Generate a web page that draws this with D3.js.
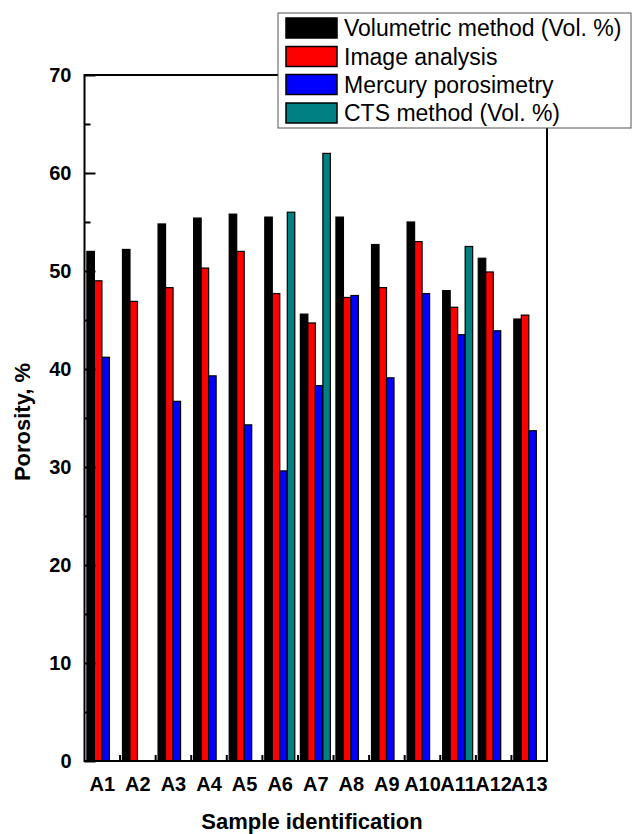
<!DOCTYPE html>
<html>
<head>
<meta charset="utf-8">
<script src="https://cdn.jsdelivr.net/npm/d3@7"></script>
<style>
  html, body { margin: 0; padding: 0; background: #fff; }
  svg { display: block; font-family: "Liberation Sans", Arial, sans-serif; }
</style>
</head>
<body>
<script>
// ---- data ----
const categories = ["A1","A2","A3","A4","A5","A6","A7","A8","A9","A10","A11","A12","A13"];
const seriesNames = ["Volumetric method (Vol. %)", "Image analysis", "Mercury porosimetry", "CTS method (Vol. %)"];
const volumetric = [52.0, 52.2, 54.8, 55.4, 55.8, 55.5, 45.6, 55.5, 52.7, 55.0, 48.0, 51.3, 45.1];
const imageAnalysis = [49.0, 46.9, 48.3, 50.3, 52.0, 47.7, 44.7, 47.3, 48.3, 53.0, 46.3, 49.9, 45.5];
const mercury = [41.2, null, 36.7, 39.3, 34.3, 29.6, 38.3, 47.5, 39.1, 47.7, 43.5, 43.9, 33.7];
const cts = [null, null, null, null, null, 56.0, 62.0, null, null, null, 52.5, null, null];
const yMajorTicks = [0, 10, 20, 30, 40, 50, 60, 70];
const yMinorTicks = [5, 15, 25, 35, 45, 55, 65];
const colors = ["#000000", "#ff0000", "#0000ff", "#008080"];

const seriesValues = [volumetric, imageAnalysis, mercury, cts];

const W = 633, H = 834;
const plotL = 84.5, plotR = 547, plotT = 75, plotB = 761;

const svg = d3.select("body").append("svg").attr("width", W).attr("height", H);
svg.append("rect").attr("width", W).attr("height", H).attr("fill", "#fff");

const x = d3.scaleBand().domain(categories).range([plotL, plotR]).padding(0);
const x1 = d3.scaleBand().domain(seriesNames).range([2.4, 32.4]).padding(0);
const y = d3.scaleLinear().domain([0, 70]).range([plotB, plotT]);

// bars
const barData = [];
categories.forEach((c, i) => {
  seriesNames.forEach((s, j) => {
    const v = seriesValues[j][i];
    if (v !== null && v !== undefined) barData.push({c, s, v, j});
  });
});
svg.append("g").selectAll("rect").data(barData).join("rect")
  .attr("x", d => x(d.c) + x1(d.s))
  .attr("y", d => y(d.v))
  .attr("width", x1.bandwidth())
  .attr("height", d => y(0) - y(d.v))
  .attr("fill", d => colors[d.j])
  .attr("stroke", "#000")
  .attr("stroke-width", 1.2);

// frame
svg.append("rect")
  .attr("x", plotL).attr("y", plotT)
  .attr("width", plotR - plotL).attr("height", plotB - plotT)
  .attr("fill", "none").attr("stroke", "#000").attr("stroke-width", 2);

// left axis major
const gy = svg.append("g").attr("transform", `translate(${plotL},0)`)
  .call(d3.axisLeft(y).tickValues(yMajorTicks).tickSize(-11).tickSizeOuter(0).tickPadding(13).tickFormat(d3.format("d")));
gy.select(".domain").remove();
gy.selectAll("line").attr("stroke", "#000").attr("stroke-width", 2);
gy.selectAll("text").attr("font-size", 20).attr("font-weight", "bold").attr("fill", "#000")
  .attr("font-family", "'Liberation Sans', Arial, sans-serif");

// left axis minor
const gym = svg.append("g").attr("transform", `translate(${plotL},0)`)
  .call(d3.axisLeft(y).tickValues(yMinorTicks).tickSize(-6).tickSizeOuter(0).tickFormat(""));
gym.select(".domain").remove();
gym.selectAll("line").attr("stroke", "#000").attr("stroke-width", 2);

// bottom axis labels
const gx = svg.append("g").attr("transform", `translate(0,${plotB})`)
  .call(d3.axisBottom(x).tickSize(0).tickSizeOuter(0));
gx.select(".domain").remove();
gx.selectAll("text").attr("y", 30).attr("dy", null)
  .attr("font-size", 20).attr("font-weight", "bold").attr("fill", "#000")
  .attr("font-family", "'Liberation Sans', Arial, sans-serif");

// bottom boundary ticks
svg.append("g").selectAll("line").data(categories.slice(1)).join("line")
  .attr("x1", d => x(d)).attr("x2", d => x(d))
  .attr("y1", plotB).attr("y2", plotB - 6)
  .attr("stroke", "#000").attr("stroke-width", 2);

// axis titles
svg.append("text")
  .attr("transform", `translate(30,${(plotT + plotB) / 2 + 4}) rotate(-90)`)
  .attr("text-anchor", "middle")
  .attr("font-size", 22).attr("font-weight", "bold")
  .text("Porosity, %");
svg.append("text")
  .attr("x", 312).attr("y", 829)
  .attr("text-anchor", "middle")
  .attr("font-size", 22).attr("font-weight", "bold")
  .text("Sample identification");

// legend
const lg = svg.append("g");
lg.append("rect").attr("x", 278).attr("y", 13).attr("width", 353).attr("height", 115)
  .attr("fill", "#fff").attr("stroke", "#555").attr("stroke-width", 1);
const rowY = [18, 46.5, 74.5, 103];
seriesNames.forEach((s, j) => {
  lg.append("rect").attr("x", 286).attr("y", rowY[j]).attr("width", 51).attr("height", 20)
    .attr("fill", colors[j]).attr("stroke", "#000").attr("stroke-width", 1.5);
  lg.append("text").attr("x", 344).attr("y", rowY[j] + 18)
    .attr("font-size", 23).attr("fill", "#000").text(s);
});
</script>
</body>
</html>
